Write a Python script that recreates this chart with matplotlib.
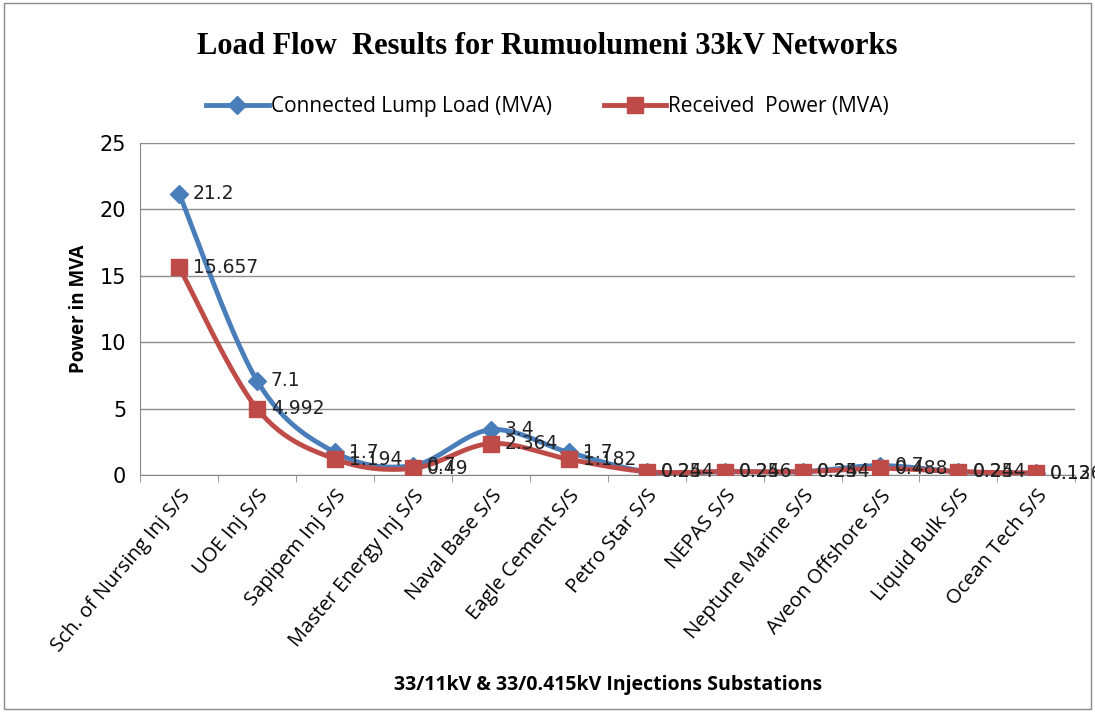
import numpy as np
import matplotlib.pyplot as plt
from matplotlib.patches import Rectangle

# Data
substations = ["Sch. of Nursing Inj S/S", "UOE Inj S/S", "Sapipem Inj S/S",
               "Master Energy Inj S/S", "Naval Base S/S", "Eagle Cement S/S",
               "Petro Star S/S", "NEPAS S/S", "Neptune Marine S/S",
               "Aveon Offshore S/S", "Liquid Bulk S/S", "Ocean Tech S/S"]
connected_load = [21.2, 7.1, 1.7, 0.7, 3.4, 1.7, 0.25, 0.25, 0.25, 0.7, 0.25, 0.13]
received_power = [15.657, 4.992, 1.194, 0.49, 2.364, 1.182, 0.244, 0.246, 0.244, 0.488, 0.244, 0.126]
connected_labels = ["21.2", "7.1", "1.7", "0.7", "3.4", "1.7", "0.25", "0.25", "0.25", "0.7", "0.25", "0.13"]
received_labels = ["15.657", "4.992", "1.194", "0.49", "2.364", "1.182", "0.244", "0.246", "0.244", "0.488", "0.244", "0.126"]

BLUE = "#4a7ebb"
RED = "#be4b48"


def smooth(x, y, n=30):
    # Catmull-Rom style smoothing through the data points (like Excel smoothed lines)
    x = np.asarray(x, float)
    y = np.asarray(y, float)
    px = np.concatenate([[x[0]], x, [x[-1]]])
    py = np.concatenate([[y[0]], y, [y[-1]]])
    xs, ys = [], []
    t = np.linspace(0, 1, n)
    for i in range(1, len(px) - 2):
        p0, p1, p2, p3 = (np.array([px[j], py[j]]) for j in (i - 1, i, i + 1, i + 2))
        c1 = p1 + (p2 - p0) / 6
        c2 = p2 - (p3 - p1) / 6
        pts = ((1 - t) ** 3)[:, None] * p1 + (3 * (1 - t) ** 2 * t)[:, None] * c1 \
            + (3 * (1 - t) * t ** 2)[:, None] * c2 + (t ** 3)[:, None] * p2
        xs.extend(pts[:, 0])
        ys.extend(pts[:, 1])
    return np.array(xs), np.array(ys)


fig = plt.figure(figsize=(10.95, 7.12), dpi=100)
fig.patches.append(Rectangle((0.004, 0.004), 0.992, 0.992, transform=fig.transFigure,
                             fill=False, edgecolor="#888888", linewidth=1))
ax = fig.add_axes([0.128, 0.333, 0.854, 0.466])

x = np.arange(len(substations))

for vals, color, marker, ms, name in [
        (connected_load, BLUE, "D", 9, "Connected Lump Load (MVA)"),
        (received_power, RED, "s", 12, "Received  Power (MVA)")]:
    sx, sy = smooth(x, vals)
    ax.plot(sx, sy, color=color, linewidth=3.5, zorder=3)
    ax.plot(x, vals, linestyle="none", marker=marker, markersize=ms, color=color, zorder=4)
    ax.plot([], [], color=color, linewidth=3.5, marker=marker, markersize=ms, label=name)

for xi, v, lab in zip(x, connected_load, connected_labels):
    ax.annotate(lab, (xi, v), xytext=(10, 0), textcoords="offset points",
                va="center", ha="left", fontsize=13.5, color="#222222", zorder=5)
for xi, v, lab in zip(x, received_power, received_labels):
    ax.annotate(lab, (xi, v), xytext=(10, 0), textcoords="offset points",
                va="center", ha="left", fontsize=13.5, color="#222222", zorder=5)

ax.set_xlim(-0.5, len(substations) - 0.5)
ax.set_ylim(0, 25)
ax.set_yticks(range(0, 26, 5))
ax.tick_params(axis="y", labelsize=15, length=0, pad=10)
ax.set_xticks(x)
ax.set_xticklabels(substations, rotation=50, ha="right", rotation_mode="anchor",
                   fontsize=14.5, family="Open Sans")
ax.tick_params(axis="x", length=0, pad=8)
ax.set_xticks(np.arange(-0.5, len(substations), 1), minor=True)
ax.tick_params(axis="x", which="minor", length=5, color="#888888")
ax.grid(axis="y", color="#8c8c8c", linewidth=1)
ax.set_axisbelow(True)
for s in ["top", "right"]:
    ax.spines[s].set_visible(False)
ax.spines["left"].set_color("#888888")
ax.spines["bottom"].set_color("#888888")

ax.set_ylabel("Power in MVA", fontsize=13.5, fontweight="bold", family="Open Sans", labelpad=8)
ax.set_xlabel("33/11kV & 33/0.415kV Injections Substations", fontsize=14,
              fontweight="bold", family="Open Sans", labelpad=14)

fig.text(0.5, 0.935, "Load Flow  Results for Rumuolumeni 33kV Networks", ha="center",
         va="center", fontsize=22, fontweight="bold", family="Liberation Serif")
fig.legend(loc="center", bbox_to_anchor=(0.5, 0.85), ncol=2, frameon=False,
           prop={"family": "Open Sans", "size": 15}, handlelength=3, columnspacing=2.5,
           handletextpad=0.1)

plt.savefig("out.png", dpi=100, facecolor="white")
plt.close()
